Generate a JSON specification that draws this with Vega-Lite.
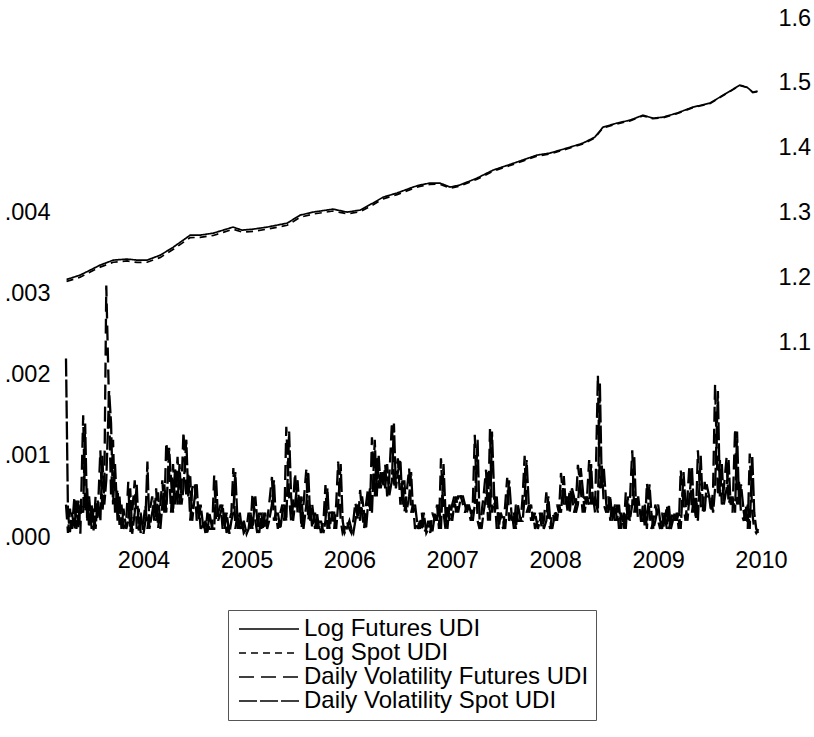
{
  "$schema": "https://vega.github.io/schema/vega-lite/v6.json",
  "autosize": {"type": "none"},
  "width": 695,
  "height": 519,
  "padding": {"left": 66, "top": 18, "right": 53, "bottom": 200},
  "background": "white",
  "config": {
    "font": "Liberation Sans",
    "view": {"stroke": null},
    "axis": {"grid": false, "ticks": false, "domain": false, "labelFontSize": 23.5, "labelColor": "#000", "labelFont": "Liberation Sans", "title": null},
    "legend": {"orient": "none", "legendX": 162, "legendY": 592, "strokeColor": "#555", "padding": 7, "labelFontSize": 24, "labelColor": "#000", "labelFont": "Liberation Sans", "symbolType": "M-6,0H6", "symbolSize": 100, "symbolOffset": 22, "symbolStrokeColor": "#000", "symbolStrokeWidth": 1.5, "labelOffset": 23, "rowPadding": -1, "labelLimit": 400}
  },
  "datasets": {
    "logs": [
      {"d": "2003-04-03", "lf": 1.197, "ls": 1.194},
      {"d": "2003-04-15", "lf": 1.1986, "ls": 1.1955},
      {"d": "2003-05-21", "lf": 1.2037, "ls": 1.2005},
      {"d": "2003-06-26", "lf": 1.2114, "ls": 1.2085},
      {"d": "2003-07-31", "lf": 1.2191, "ls": 1.216},
      {"d": "2003-09-16", "lf": 1.2268, "ls": 1.2235},
      {"d": "2003-11-04", "lf": 1.2284, "ls": 1.2255},
      {"d": "2003-12-10", "lf": 1.2268, "ls": 1.2232},
      {"d": "2004-01-14", "lf": 1.2268, "ls": 1.2235},
      {"d": "2004-03-01", "lf": 1.2345, "ls": 1.231},
      {"d": "2004-04-16", "lf": 1.2468, "ls": 1.2435},
      {"d": "2004-06-15", "lf": 1.2653, "ls": 1.2615},
      {"d": "2004-07-20", "lf": 1.2653, "ls": 1.2618},
      {"d": "2004-09-05", "lf": 1.2684, "ls": 1.2648},
      {"d": "2004-10-10", "lf": 1.273, "ls": 1.2695},
      {"d": "2004-11-14", "lf": 1.2777, "ls": 1.2745},
      {"d": "2004-12-16", "lf": 1.273, "ls": 1.27},
      {"d": "2005-01-25", "lf": 1.2746, "ls": 1.2712},
      {"d": "2005-03-15", "lf": 1.2777, "ls": 1.2745},
      {"d": "2005-05-25", "lf": 1.2838, "ls": 1.2805},
      {"d": "2005-07-10", "lf": 1.2961, "ls": 1.2928},
      {"d": "2005-08-25", "lf": 1.3008, "ls": 1.2978},
      {"d": "2005-11-04", "lf": 1.3054, "ls": 1.3025},
      {"d": "2005-12-24", "lf": 1.3008, "ls": 1.2982},
      {"d": "2006-02-08", "lf": 1.3039, "ls": 1.3012},
      {"d": "2006-03-25", "lf": 1.3146, "ls": 1.3118},
      {"d": "2006-05-01", "lf": 1.3239, "ls": 1.3212},
      {"d": "2006-06-19", "lf": 1.3302, "ls": 1.3278},
      {"d": "2006-08-15", "lf": 1.3394, "ls": 1.3372},
      {"d": "2006-09-08", "lf": 1.3425, "ls": 1.3405},
      {"d": "2006-10-14", "lf": 1.3456, "ls": 1.3436},
      {"d": "2006-11-18", "lf": 1.3456, "ls": 1.3438},
      {"d": "2006-12-24", "lf": 1.3394, "ls": 1.3376},
      {"d": "2007-01-28", "lf": 1.3425, "ls": 1.3408},
      {"d": "2007-03-30", "lf": 1.3532, "ls": 1.3515},
      {"d": "2007-05-26", "lf": 1.3655, "ls": 1.3638},
      {"d": "2007-08-18", "lf": 1.3778, "ls": 1.3762},
      {"d": "2007-10-28", "lf": 1.3886, "ls": 1.3871},
      {"d": "2007-12-13", "lf": 1.3917, "ls": 1.3902},
      {"d": "2008-02-12", "lf": 1.3994, "ls": 1.398},
      {"d": "2008-04-09", "lf": 1.4071, "ls": 1.4058},
      {"d": "2008-05-21", "lf": 1.4163, "ls": 1.415},
      {"d": "2008-06-19", "lf": 1.4317, "ls": 1.4305},
      {"d": "2008-08-07", "lf": 1.4379, "ls": 1.4367},
      {"d": "2008-09-23", "lf": 1.4425, "ls": 1.4414},
      {"d": "2008-11-08", "lf": 1.4502, "ls": 1.4492},
      {"d": "2008-12-13", "lf": 1.4456, "ls": 1.4447},
      {"d": "2009-01-18", "lf": 1.4471, "ls": 1.4462},
      {"d": "2009-03-08", "lf": 1.4533, "ls": 1.4524},
      {"d": "2009-05-04", "lf": 1.4626, "ls": 1.4618},
      {"d": "2009-07-03", "lf": 1.4687, "ls": 1.468},
      {"d": "2009-08-08", "lf": 1.478, "ls": 1.4773},
      {"d": "2009-09-12", "lf": 1.4872, "ls": 1.4866},
      {"d": "2009-10-18", "lf": 1.4965, "ls": 1.4958},
      {"d": "2009-11-12", "lf": 1.4934, "ls": 1.4928},
      {"d": "2009-12-03", "lf": 1.4857, "ls": 1.4852},
      {"d": "2009-12-20", "lf": 1.4872, "ls": 1.4866}
    ],
    "vol": [
      {"d": "2003-04-01", "vf": 0.0004, "vs": 0.0022},
      {"d": "2003-04-08", "vf": 0.00005, "vs": 0.0003},
      {"d": "2003-04-15", "vf": 0.00035, "vs": 0.00006},
      {"d": "2003-04-22", "vf": 0.0001, "vs": 0.0003},
      {"d": "2003-05-01", "vf": 0.0005, "vs": 0.0001},
      {"d": "2003-05-08", "vf": 0.0001, "vs": 0.00045},
      {"d": "2003-05-15", "vf": 0.00045, "vs": 0.00012},
      {"d": "2003-05-22", "vf": 0.00004, "vs": 0.0004},
      {"d": "2003-06-01", "vf": 0.0015, "vs": 0.0003},
      {"d": "2003-06-08", "vf": 0.0003, "vs": 0.0014},
      {"d": "2003-06-15", "vf": 0.0006, "vs": 0.0002},
      {"d": "2003-06-22", "vf": 0.0001, "vs": 0.0005},
      {"d": "2003-07-01", "vf": 0.0004, "vs": 0.0001},
      {"d": "2003-07-08", "vf": 0.00008, "vs": 0.00035},
      {"d": "2003-07-15", "vf": 0.0005, "vs": 0.0001},
      {"d": "2003-07-22", "vf": 0.0002, "vs": 0.00045},
      {"d": "2003-08-01", "vf": 0.00107, "vs": 0.0002},
      {"d": "2003-08-08", "vf": 0.0003, "vs": 0.001},
      {"d": "2003-08-15", "vf": 0.0006, "vs": 0.0004},
      {"d": "2003-08-22", "vf": 0.0031, "vs": 0.0007},
      {"d": "2003-09-01", "vf": 0.0016, "vs": 0.0018},
      {"d": "2003-09-08", "vf": 0.0005, "vs": 0.0014},
      {"d": "2003-09-15", "vf": 0.0012, "vs": 0.0004},
      {"d": "2003-09-22", "vf": 0.0003, "vs": 0.0009},
      {"d": "2003-10-01", "vf": 0.0006, "vs": 0.0002},
      {"d": "2003-10-08", "vf": 0.00015, "vs": 0.0005},
      {"d": "2003-10-15", "vf": 0.0004, "vs": 0.0001},
      {"d": "2003-10-22", "vf": 0.0001, "vs": 0.00035},
      {"d": "2003-11-01", "vf": 0.0002, "vs": 0.0001},
      {"d": "2003-11-08", "vf": 0.00068, "vs": 0.0002},
      {"d": "2003-11-15", "vf": 0.00005, "vs": 0.0006},
      {"d": "2003-11-22", "vf": 0.0003, "vs": 0.00004},
      {"d": "2003-12-01", "vf": 0.0007, "vs": 0.0003},
      {"d": "2003-12-08", "vf": 0.0001, "vs": 0.00065},
      {"d": "2003-12-15", "vf": 0.00035, "vs": 0.00008},
      {"d": "2003-12-22", "vf": 0.00005, "vs": 0.0003},
      {"d": "2004-01-01", "vf": 0.0002, "vs": 0.00004},
      {"d": "2004-01-08", "vf": 0.0004, "vs": 0.0002},
      {"d": "2004-01-15", "vf": 0.0001, "vs": 0.00093},
      {"d": "2004-01-22", "vf": 0.0003, "vs": 0.0001},
      {"d": "2004-02-01", "vf": 0.0005, "vs": 0.0003},
      {"d": "2004-02-08", "vf": 0.0002, "vs": 0.00045},
      {"d": "2004-02-15", "vf": 0.0006, "vs": 0.0002},
      {"d": "2004-02-22", "vf": 0.0001, "vs": 0.00055},
      {"d": "2004-03-01", "vf": 0.0004, "vs": 0.0001},
      {"d": "2004-03-08", "vf": 0.0007, "vs": 0.0004},
      {"d": "2004-03-15", "vf": 0.0003, "vs": 0.00065},
      {"d": "2004-03-22", "vf": 0.00117, "vs": 0.0003},
      {"d": "2004-04-01", "vf": 0.0008, "vs": 0.0011},
      {"d": "2004-04-08", "vf": 0.0003, "vs": 0.0007},
      {"d": "2004-04-15", "vf": 0.0009, "vs": 0.0003},
      {"d": "2004-04-22", "vf": 0.0004, "vs": 0.00085},
      {"d": "2004-05-01", "vf": 0.00099, "vs": 0.0004},
      {"d": "2004-05-08", "vf": 0.0004, "vs": 0.0009},
      {"d": "2004-05-15", "vf": 0.0006, "vs": 0.0004},
      {"d": "2004-05-22", "vf": 0.0013, "vs": 0.0006},
      {"d": "2004-06-01", "vf": 0.0005, "vs": 0.0012},
      {"d": "2004-06-08", "vf": 0.0008, "vs": 0.0005},
      {"d": "2004-06-15", "vf": 0.0002, "vs": 0.00075},
      {"d": "2004-06-22", "vf": 0.0006, "vs": 0.0002},
      {"d": "2004-07-01", "vf": 0.00068, "vs": 0.0005},
      {"d": "2004-07-08", "vf": 0.0002, "vs": 0.00065},
      {"d": "2004-07-15", "vf": 0.0004, "vs": 0.0002},
      {"d": "2004-07-22", "vf": 0.0001, "vs": 0.0004},
      {"d": "2004-08-01", "vf": 0.0002, "vs": 0.0001},
      {"d": "2004-08-08", "vf": 0.00005, "vs": 0.0002},
      {"d": "2004-08-15", "vf": 0.0003, "vs": 0.00004},
      {"d": "2004-08-22", "vf": 0.0001, "vs": 0.0003},
      {"d": "2004-09-01", "vf": 0.0001, "vs": 0.0001},
      {"d": "2004-09-08", "vf": 0.00076, "vs": 0.0001},
      {"d": "2004-09-15", "vf": 0.0002, "vs": 0.0007},
      {"d": "2004-09-22", "vf": 0.0003, "vs": 0.0002},
      {"d": "2004-10-01", "vf": 0.0004, "vs": 0.0003},
      {"d": "2004-10-08", "vf": 0.0001, "vs": 0.0004},
      {"d": "2004-10-15", "vf": 0.0003, "vs": 0.0001},
      {"d": "2004-10-22", "vf": 0.00005, "vs": 0.0003},
      {"d": "2004-11-01", "vf": 0.0002, "vs": 0.00004},
      {"d": "2004-11-08", "vf": 0.0003, "vs": 0.0002},
      {"d": "2004-11-15", "vf": 0.00085, "vs": 0.0003},
      {"d": "2004-11-22", "vf": 0.0001, "vs": 0.0008},
      {"d": "2004-12-01", "vf": 0.0003, "vs": 0.0001},
      {"d": "2004-12-08", "vf": 0.0001, "vs": 0.0003},
      {"d": "2004-12-15", "vf": 0.0002, "vs": 0.0001},
      {"d": "2004-12-22", "vf": 0.00005, "vs": 0.0002},
      {"d": "2005-01-01", "vf": 0.0001, "vs": 0.00004},
      {"d": "2005-01-08", "vf": 0.0003, "vs": 0.0001},
      {"d": "2005-01-15", "vf": 0.0001, "vs": 0.0003},
      {"d": "2005-01-22", "vf": 0.00054, "vs": 0.0001},
      {"d": "2005-02-01", "vf": 0.0002, "vs": 0.0005},
      {"d": "2005-02-08", "vf": 0.00005, "vs": 0.0002},
      {"d": "2005-02-15", "vf": 0.0003, "vs": 0.00005},
      {"d": "2005-02-22", "vf": 0.0001, "vs": 0.0003},
      {"d": "2005-03-01", "vf": 0.0003, "vs": 0.0001},
      {"d": "2005-03-08", "vf": 0.0001, "vs": 0.0003},
      {"d": "2005-03-15", "vf": 0.0002, "vs": 0.0001},
      {"d": "2005-03-22", "vf": 0.0004, "vs": 0.0002},
      {"d": "2005-04-01", "vf": 0.00074, "vs": 0.0004},
      {"d": "2005-04-08", "vf": 0.0002, "vs": 0.0007},
      {"d": "2005-04-15", "vf": 0.0003, "vs": 0.0002},
      {"d": "2005-04-22", "vf": 0.0001, "vs": 0.0003},
      {"d": "2005-05-01", "vf": 0.0003, "vs": 0.0001},
      {"d": "2005-05-08", "vf": 0.0004, "vs": 0.0003},
      {"d": "2005-05-15", "vf": 0.0002, "vs": 0.0004},
      {"d": "2005-05-22", "vf": 0.00136, "vs": 0.0002},
      {"d": "2005-06-01", "vf": 0.0005, "vs": 0.0013},
      {"d": "2005-06-08", "vf": 0.0002, "vs": 0.0005},
      {"d": "2005-06-15", "vf": 0.0004, "vs": 0.0002},
      {"d": "2005-06-22", "vf": 0.00079, "vs": 0.0004},
      {"d": "2005-07-01", "vf": 0.0003, "vs": 0.0007},
      {"d": "2005-07-08", "vf": 0.0005, "vs": 0.0003},
      {"d": "2005-07-15", "vf": 0.0001, "vs": 0.0005},
      {"d": "2005-07-22", "vf": 0.0004, "vs": 0.0001},
      {"d": "2005-08-01", "vf": 0.00083, "vs": 0.0004},
      {"d": "2005-08-08", "vf": 0.0002, "vs": 0.0008},
      {"d": "2005-08-15", "vf": 0.0004, "vs": 0.0002},
      {"d": "2005-08-22", "vf": 0.0001, "vs": 0.0004},
      {"d": "2005-09-01", "vf": 0.0003, "vs": 0.0001},
      {"d": "2005-09-08", "vf": 0.0001, "vs": 0.0003},
      {"d": "2005-09-15", "vf": 0.0002, "vs": 0.0001},
      {"d": "2005-09-22", "vf": 0.00005, "vs": 0.0002},
      {"d": "2005-10-01", "vf": 0.0002, "vs": 0.00005},
      {"d": "2005-10-08", "vf": 0.00064, "vs": 0.0002},
      {"d": "2005-10-15", "vf": 0.0001, "vs": 0.0006},
      {"d": "2005-10-22", "vf": 0.0003, "vs": 0.0001},
      {"d": "2005-11-01", "vf": 0.0003, "vs": 0.0003},
      {"d": "2005-11-08", "vf": 0.0001, "vs": 0.0003},
      {"d": "2005-11-15", "vf": 0.0004, "vs": 0.0001},
      {"d": "2005-11-22", "vf": 0.00093, "vs": 0.0004},
      {"d": "2005-12-01", "vf": 0.0002, "vs": 0.0009},
      {"d": "2005-12-08", "vf": 0.00005, "vs": 0.0002},
      {"d": "2005-12-15", "vf": 0.0001, "vs": 0.00005},
      {"d": "2005-12-22", "vf": 0.0002, "vs": 0.0001},
      {"d": "2006-01-01", "vf": 0.0001, "vs": 0.0002},
      {"d": "2006-01-08", "vf": 0.00005, "vs": 0.0001},
      {"d": "2006-01-15", "vf": 0.0002, "vs": 0.00005},
      {"d": "2006-01-22", "vf": 0.00043, "vs": 0.0002},
      {"d": "2006-02-01", "vf": 0.0002, "vs": 0.0004},
      {"d": "2006-02-08", "vf": 0.00058, "vs": 0.0002},
      {"d": "2006-02-15", "vf": 0.0003, "vs": 0.0005},
      {"d": "2006-02-22", "vf": 0.0001, "vs": 0.0003},
      {"d": "2006-03-01", "vf": 0.0004, "vs": 0.0001},
      {"d": "2006-03-08", "vf": 0.0006, "vs": 0.0004},
      {"d": "2006-03-15", "vf": 0.0003, "vs": 0.0006},
      {"d": "2006-03-22", "vf": 0.00123, "vs": 0.0003},
      {"d": "2006-04-01", "vf": 0.0005, "vs": 0.0012},
      {"d": "2006-04-08", "vf": 0.001, "vs": 0.0005},
      {"d": "2006-04-15", "vf": 0.0006, "vs": 0.001},
      {"d": "2006-04-22", "vf": 0.0008, "vs": 0.0006},
      {"d": "2006-05-01", "vf": 0.0006, "vs": 0.0008},
      {"d": "2006-05-08", "vf": 0.0009, "vs": 0.0006},
      {"d": "2006-05-15", "vf": 0.0005, "vs": 0.0009},
      {"d": "2006-05-22", "vf": 0.0007, "vs": 0.0005},
      {"d": "2006-06-01", "vf": 0.00142, "vs": 0.0007},
      {"d": "2006-06-08", "vf": 0.0006, "vs": 0.0014},
      {"d": "2006-06-15", "vf": 0.0008, "vs": 0.0006},
      {"d": "2006-06-22", "vf": 0.00097, "vs": 0.0008},
      {"d": "2006-07-01", "vf": 0.0004, "vs": 0.00095},
      {"d": "2006-07-08", "vf": 0.0007, "vs": 0.0004},
      {"d": "2006-07-15", "vf": 0.0003, "vs": 0.0007},
      {"d": "2006-07-22", "vf": 0.0005, "vs": 0.0003},
      {"d": "2006-08-01", "vf": 0.00085, "vs": 0.0005},
      {"d": "2006-08-08", "vf": 0.0003, "vs": 0.0008},
      {"d": "2006-08-15", "vf": 0.0004, "vs": 0.0003},
      {"d": "2006-08-22", "vf": 0.0001, "vs": 0.0004},
      {"d": "2006-09-01", "vf": 0.0002, "vs": 0.0001},
      {"d": "2006-09-08", "vf": 0.0001, "vs": 0.0002},
      {"d": "2006-09-15", "vf": 0.0003, "vs": 0.0001},
      {"d": "2006-09-22", "vf": 0.00005, "vs": 0.0003},
      {"d": "2006-10-01", "vf": 0.0001, "vs": 0.00005},
      {"d": "2006-10-08", "vf": 0.0002, "vs": 0.0001},
      {"d": "2006-10-15", "vf": 0.00005, "vs": 0.0002},
      {"d": "2006-10-22", "vf": 0.0003, "vs": 0.00005},
      {"d": "2006-11-01", "vf": 0.0002, "vs": 0.0003},
      {"d": "2006-11-08", "vf": 0.0004, "vs": 0.0002},
      {"d": "2006-11-15", "vf": 0.0001, "vs": 0.0004},
      {"d": "2006-11-22", "vf": 0.00097, "vs": 0.0001},
      {"d": "2006-12-01", "vf": 0.0003, "vs": 0.0009},
      {"d": "2006-12-08", "vf": 0.0001, "vs": 0.0003},
      {"d": "2006-12-15", "vf": 0.0004, "vs": 0.0001},
      {"d": "2006-12-22", "vf": 0.0002, "vs": 0.0004},
      {"d": "2007-01-01", "vf": 0.0004, "vs": 0.0002},
      {"d": "2007-01-08", "vf": 0.0005, "vs": 0.0004},
      {"d": "2007-01-15", "vf": 0.0003, "vs": 0.0005},
      {"d": "2007-01-22", "vf": 0.0005, "vs": 0.0003},
      {"d": "2007-02-01", "vf": 0.0005, "vs": 0.0005},
      {"d": "2007-02-08", "vf": 0.0004, "vs": 0.0005},
      {"d": "2007-02-15", "vf": 0.0003, "vs": 0.0004},
      {"d": "2007-02-22", "vf": 0.0004, "vs": 0.0003},
      {"d": "2007-03-01", "vf": 0.0003, "vs": 0.0004},
      {"d": "2007-03-08", "vf": 0.0002, "vs": 0.0003},
      {"d": "2007-03-15", "vf": 0.0004, "vs": 0.0002},
      {"d": "2007-03-22", "vf": 0.00126, "vs": 0.0004},
      {"d": "2007-04-01", "vf": 0.0002, "vs": 0.0012},
      {"d": "2007-04-08", "vf": 0.0001, "vs": 0.0002},
      {"d": "2007-04-15", "vf": 0.0003, "vs": 0.0001},
      {"d": "2007-04-22", "vf": 0.0005, "vs": 0.0003},
      {"d": "2007-05-01", "vf": 0.00083, "vs": 0.0005},
      {"d": "2007-05-08", "vf": 0.0002, "vs": 0.0008},
      {"d": "2007-05-15", "vf": 0.00133, "vs": 0.0002},
      {"d": "2007-05-22", "vf": 0.0003, "vs": 0.0013},
      {"d": "2007-06-01", "vf": 0.0005, "vs": 0.0003},
      {"d": "2007-06-08", "vf": 0.0001, "vs": 0.0005},
      {"d": "2007-06-15", "vf": 0.0003, "vs": 0.0001},
      {"d": "2007-06-22", "vf": 0.0002, "vs": 0.0003},
      {"d": "2007-07-01", "vf": 0.0001, "vs": 0.0002},
      {"d": "2007-07-08", "vf": 0.0004, "vs": 0.0001},
      {"d": "2007-07-15", "vf": 0.00073, "vs": 0.0004},
      {"d": "2007-07-22", "vf": 0.0002, "vs": 0.0007},
      {"d": "2007-08-01", "vf": 0.0003, "vs": 0.0002},
      {"d": "2007-08-08", "vf": 0.0001, "vs": 0.0003},
      {"d": "2007-08-15", "vf": 0.0004, "vs": 0.0001},
      {"d": "2007-08-22", "vf": 0.0002, "vs": 0.0004},
      {"d": "2007-09-01", "vf": 0.0002, "vs": 0.0002},
      {"d": "2007-09-08", "vf": 0.0005, "vs": 0.0002},
      {"d": "2007-09-15", "vf": 0.001, "vs": 0.0005},
      {"d": "2007-09-22", "vf": 0.0003, "vs": 0.00095},
      {"d": "2007-10-01", "vf": 0.0004, "vs": 0.0003},
      {"d": "2007-10-08", "vf": 0.0002, "vs": 0.0004},
      {"d": "2007-10-15", "vf": 0.0003, "vs": 0.0002},
      {"d": "2007-10-22", "vf": 0.0001, "vs": 0.0003},
      {"d": "2007-11-01", "vf": 0.0002, "vs": 0.0001},
      {"d": "2007-11-08", "vf": 0.0003, "vs": 0.0002},
      {"d": "2007-11-15", "vf": 0.0001, "vs": 0.0003},
      {"d": "2007-11-22", "vf": 0.0002, "vs": 0.0001},
      {"d": "2007-12-01", "vf": 0.00055, "vs": 0.0002},
      {"d": "2007-12-08", "vf": 0.0002, "vs": 0.0005},
      {"d": "2007-12-15", "vf": 0.0001, "vs": 0.0002},
      {"d": "2007-12-22", "vf": 0.0003, "vs": 0.0001},
      {"d": "2008-01-01", "vf": 0.0002, "vs": 0.0003},
      {"d": "2008-01-08", "vf": 0.0004, "vs": 0.0002},
      {"d": "2008-01-15", "vf": 0.0003, "vs": 0.0004},
      {"d": "2008-01-22", "vf": 0.00079, "vs": 0.0003},
      {"d": "2008-02-01", "vf": 0.0004, "vs": 0.00075},
      {"d": "2008-02-08", "vf": 0.0005, "vs": 0.0004},
      {"d": "2008-02-15", "vf": 0.0003, "vs": 0.0005},
      {"d": "2008-02-22", "vf": 0.0006, "vs": 0.0003},
      {"d": "2008-03-01", "vf": 0.0005, "vs": 0.0006},
      {"d": "2008-03-08", "vf": 0.0003, "vs": 0.0005},
      {"d": "2008-03-15", "vf": 0.0004, "vs": 0.0003},
      {"d": "2008-03-22", "vf": 0.00089, "vs": 0.0004},
      {"d": "2008-04-01", "vf": 0.0006, "vs": 0.00085},
      {"d": "2008-04-08", "vf": 0.0003, "vs": 0.0006},
      {"d": "2008-04-15", "vf": 0.0005, "vs": 0.0003},
      {"d": "2008-04-22", "vf": 0.0004, "vs": 0.0005},
      {"d": "2008-05-01", "vf": 0.00095, "vs": 0.0004},
      {"d": "2008-05-08", "vf": 0.0004, "vs": 0.0009},
      {"d": "2008-05-15", "vf": 0.0005, "vs": 0.0004},
      {"d": "2008-05-22", "vf": 0.0003, "vs": 0.0005},
      {"d": "2008-06-01", "vf": 0.002, "vs": 0.0003},
      {"d": "2008-06-08", "vf": 0.0006, "vs": 0.0019},
      {"d": "2008-06-15", "vf": 0.00088, "vs": 0.0006},
      {"d": "2008-06-22", "vf": 0.0004, "vs": 0.00085},
      {"d": "2008-07-01", "vf": 0.0003, "vs": 0.0004},
      {"d": "2008-07-08", "vf": 0.0005, "vs": 0.0003},
      {"d": "2008-07-15", "vf": 0.0002, "vs": 0.0005},
      {"d": "2008-07-22", "vf": 0.0004, "vs": 0.0002},
      {"d": "2008-08-01", "vf": 0.0002, "vs": 0.0004},
      {"d": "2008-08-08", "vf": 0.0004, "vs": 0.0002},
      {"d": "2008-08-15", "vf": 0.0001, "vs": 0.0004},
      {"d": "2008-08-22", "vf": 0.0003, "vs": 0.0001},
      {"d": "2008-09-01", "vf": 0.0001, "vs": 0.0003},
      {"d": "2008-09-08", "vf": 0.00055, "vs": 0.0001},
      {"d": "2008-09-15", "vf": 0.0002, "vs": 0.0005},
      {"d": "2008-09-22", "vf": 0.0004, "vs": 0.0002},
      {"d": "2008-10-01", "vf": 0.00107, "vs": 0.0004},
      {"d": "2008-10-08", "vf": 0.0003, "vs": 0.001},
      {"d": "2008-10-15", "vf": 0.0005, "vs": 0.0003},
      {"d": "2008-10-22", "vf": 0.0002, "vs": 0.0005},
      {"d": "2008-11-01", "vf": 0.0002, "vs": 0.0002},
      {"d": "2008-11-08", "vf": 0.0004, "vs": 0.0002},
      {"d": "2008-11-15", "vf": 0.0001, "vs": 0.0004},
      {"d": "2008-11-22", "vf": 0.00067, "vs": 0.0001},
      {"d": "2008-12-01", "vf": 0.0003, "vs": 0.00065},
      {"d": "2008-12-08", "vf": 0.0001, "vs": 0.0003},
      {"d": "2008-12-15", "vf": 0.0002, "vs": 0.0001},
      {"d": "2008-12-22", "vf": 0.0004, "vs": 0.0002},
      {"d": "2009-01-01", "vf": 0.0002, "vs": 0.0004},
      {"d": "2009-01-08", "vf": 0.0001, "vs": 0.0002},
      {"d": "2009-01-15", "vf": 0.0003, "vs": 0.0001},
      {"d": "2009-01-22", "vf": 0.0001, "vs": 0.0003},
      {"d": "2009-02-01", "vf": 0.0004, "vs": 0.0001},
      {"d": "2009-02-08", "vf": 0.0001, "vs": 0.0004},
      {"d": "2009-02-15", "vf": 0.0002, "vs": 0.0001},
      {"d": "2009-02-22", "vf": 0.0003, "vs": 0.0002},
      {"d": "2009-03-01", "vf": 0.0002, "vs": 0.0003},
      {"d": "2009-03-08", "vf": 0.0003, "vs": 0.0002},
      {"d": "2009-03-15", "vf": 0.0001, "vs": 0.0003},
      {"d": "2009-03-22", "vf": 0.00083, "vs": 0.0001},
      {"d": "2009-04-01", "vf": 0.0004, "vs": 0.0008},
      {"d": "2009-04-08", "vf": 0.0002, "vs": 0.0004},
      {"d": "2009-04-15", "vf": 0.0005, "vs": 0.0002},
      {"d": "2009-04-22", "vf": 0.00089, "vs": 0.0005},
      {"d": "2009-05-01", "vf": 0.0003, "vs": 0.00085},
      {"d": "2009-05-08", "vf": 0.0005, "vs": 0.0003},
      {"d": "2009-05-15", "vf": 0.0002, "vs": 0.0005},
      {"d": "2009-05-22", "vf": 0.00107, "vs": 0.0002},
      {"d": "2009-06-01", "vf": 0.0004, "vs": 0.001},
      {"d": "2009-06-08", "vf": 0.0003, "vs": 0.0004},
      {"d": "2009-06-15", "vf": 0.00068, "vs": 0.0003},
      {"d": "2009-06-22", "vf": 0.0005, "vs": 0.00065},
      {"d": "2009-07-01", "vf": 0.0005, "vs": 0.0005},
      {"d": "2009-07-08", "vf": 0.0003, "vs": 0.0005},
      {"d": "2009-07-15", "vf": 0.0006, "vs": 0.0003},
      {"d": "2009-07-22", "vf": 0.00189, "vs": 0.0006},
      {"d": "2009-08-01", "vf": 0.0005, "vs": 0.0018},
      {"d": "2009-08-08", "vf": 0.00095, "vs": 0.0005},
      {"d": "2009-08-15", "vf": 0.0004, "vs": 0.0009},
      {"d": "2009-08-22", "vf": 0.0006, "vs": 0.0004},
      {"d": "2009-09-01", "vf": 0.00099, "vs": 0.0006},
      {"d": "2009-09-08", "vf": 0.0004, "vs": 0.00095},
      {"d": "2009-09-15", "vf": 0.0005, "vs": 0.0004},
      {"d": "2009-09-22", "vf": 0.0003, "vs": 0.0005},
      {"d": "2009-10-01", "vf": 0.00134, "vs": 0.0003},
      {"d": "2009-10-08", "vf": 0.0004, "vs": 0.0013},
      {"d": "2009-10-15", "vf": 0.00068, "vs": 0.0004},
      {"d": "2009-10-22", "vf": 0.0003, "vs": 0.00065},
      {"d": "2009-11-01", "vf": 0.0002, "vs": 0.0003},
      {"d": "2009-11-08", "vf": 0.0004, "vs": 0.0002},
      {"d": "2009-11-15", "vf": 0.0001, "vs": 0.0004},
      {"d": "2009-11-22", "vf": 0.00103, "vs": 0.0001},
      {"d": "2009-12-01", "vf": 0.0003, "vs": 0.001},
      {"d": "2009-12-08", "vf": 0.0001, "vs": 0.0003},
      {"d": "2009-12-15", "vf": 0.00005, "vs": 0.0001},
      {"d": "2009-12-22", "vf": 0.0001, "vs": 0.00005}
    ]
  },
  "layer": [
    {
      "data": {"name": "vol"},
      "transform": [{"fold": ["vf", "vs"], "as": ["k", "v"]}],
      "mark": {"type": "line", "color": "#000", "strokeWidth": 2.3},
      "encoding": {
        "x": {"field": "d", "type": "temporal",
          "scale": {"domain": [{"year": 2003, "month": 4, "date": 1}, {"year": 2010, "month": 1, "date": 1}], "nice": false},
          "axis": {"values": [{"year": 2004, "month": 1, "date": 1}, {"year": 2005, "month": 1, "date": 1}, {"year": 2006, "month": 1, "date": 1}, {"year": 2007, "month": 1, "date": 1}, {"year": 2008, "month": 1, "date": 1}, {"year": 2009, "month": 1, "date": 1}, {"year": 2010, "month": 1, "date": 1}], "format": "%Y", "labelFlush": false, "labelOverlap": false, "labelPadding": 11}},
        "y": {"field": "v", "type": "quantitative",
          "scale": {"domain": [0, 0.0064], "nice": false, "zero": false},
          "axis": {"orient": "left", "values": [0, 0.001, 0.002, 0.003, 0.004], "labelExpr": "replace(format(datum.value, '.3f'), '0.', '.')", "labelPadding": 16}},
        "strokeDash": {"field": "k", "type": "nominal",
          "scale": {"domain": ["lf", "ls", "vf", "vs"], "range": [[1, 0], [7, 5], [15, 7], [18, 3]]},
          "legend": {"title": null, "labelExpr": "{'lf': 'Log Futures UDI', 'ls': 'Log Spot UDI', 'vf': 'Daily Volatility Futures UDI', 'vs': 'Daily Volatility Spot UDI'}[datum.label]"}},
        "detail": {"field": "k"}
      }
    },
    {
      "data": {"name": "logs"},
      "transform": [{"fold": ["lf", "ls"], "as": ["k", "v"]}],
      "mark": {"type": "line", "color": "#000", "strokeWidth": 1.7},
      "encoding": {
        "x": {"field": "d", "type": "temporal"},
        "y": {"field": "v", "type": "quantitative",
          "scale": {"domain": [0.8, 1.6], "nice": false, "zero": false},
          "axis": {"orient": "right", "values": [1.1, 1.2, 1.3, 1.4, 1.5, 1.6], "format": ".1f", "labelPadding": 17}},
        "strokeDash": {"field": "k", "type": "nominal"},
        "detail": {"field": "k"}
      }
    }
  ],
  "resolve": {"scale": {"y": "independent"}}
}
